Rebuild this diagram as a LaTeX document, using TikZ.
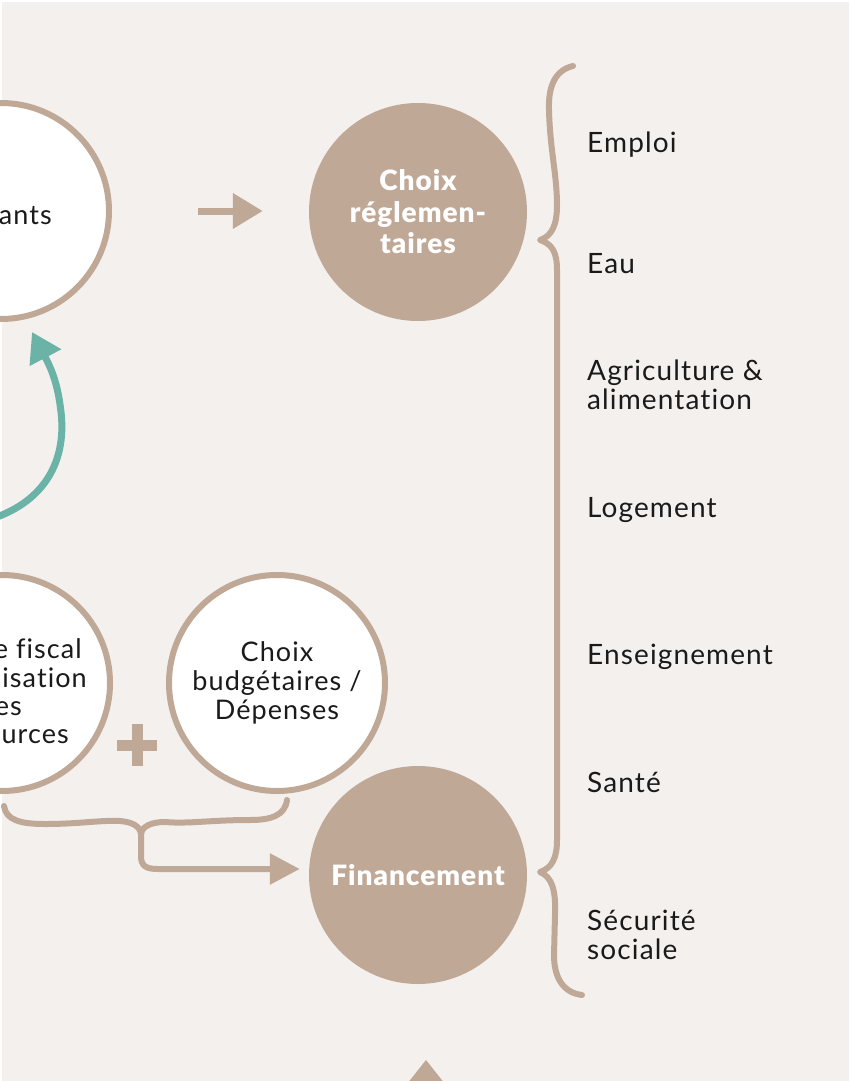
\documentclass[tikz,border=0pt]{standalone}
\usepackage{fontspec}
\setmainfont{Lato}[Ligatures=NoCommon]
\newfontfamily\lblfont{Lato}[Ligatures=NoCommon, LetterSpace=4]
\newfontfamily\boldlbl{Lato Black}[Ligatures=NoCommon, LetterSpace=3.5]
\usetikzlibrary{arrows.meta}
\definecolor{bg}{HTML}{F4F0ED}
\definecolor{beige}{HTML}{C0A896}
\definecolor{tealc}{HTML}{6BB3A7}
\definecolor{ink}{HTML}{1A1A1A}
\tikzset{
  ring/.style={circle, draw=beige, line width=6pt, fill=white, minimum size=216pt, inner sep=0pt},
  disc/.style={circle, fill=beige, minimum size=218pt, inner sep=0pt, text=white, align=center,
    font=\boldlbl\fontsize{28}{31.5}\selectfont},
  ringtext/.style={text=ink, align=center, font=\lblfont\fontsize{27}{29}\selectfont, inner sep=0pt},
  frag/.style={anchor=base east, inner sep=0pt, text=ink, font=\lblfont\fontsize{27}{29}\selectfont},
  lbl/.style={anchor=base west, inner sep=0pt, text=ink, align=left, font=\lblfont\fontsize{28}{28.5}\selectfont},
  flow/.style={draw=beige, line width=6pt, line cap=round, line join=round},
  bigarrow/.style={draw=beige, line width=7pt, -{Triangle[length=30pt,width=34pt]}},
}
\begin{document}
\begin{tikzpicture}[x=1pt,y=-1pt]
\useasboundingbox (0,0) rectangle (849,1081);
\clip (0,0) rectangle (849,1081);
\fill[white] (0,0) rectangle (849,1081);
\fill[bg] (2,2) rectangle (849,1081);

% circles
\node[ring] (lc1) at (1,211) {};
\node[ring] (lc2) at (2,683) {};
\node[ring, ringtext] (bc) at (277,683) {Choix\\budgétaires /\\Dépenses};
\node[disc] (rc) at (418,212) {Choix\\réglemen-\\taires};
\node[disc] (fc) at (418,875) {Financement};

% visible parts of the cropped texts
\node[frag] (t1) at (52,224) {ants};
\node[frag] (t2) at (82,658) {e fiscal};
\node[frag] (t3) at (87,687) {lisation};
\node[frag] (t4) at (22,715) {es};
\node[frag] (t5) at (69,743) {urces};

% arrow to Choix réglementaires
\draw[bigarrow, shorten <=86pt, shorten >=46pt] (lc1.east) -- (lc1.east -| rc.west);

% teal curved arrow
\coordinate (tstart) at (-3,517);
\coordinate (ttip) at (32,332);
\draw[tealc, line width=7pt, -{Triangle[length=29pt,width=34pt]}]
  (tstart) .. controls (50,497) and (66,455) .. (61,412)
  .. controls (58,385) and (52,370) .. (ttip);

% plus sign
\draw[beige, line width=11pt] (117,745) -- (157,745) (137,724) -- (137,766);

% brace connector to Financement
\draw[flow] (4,806) .. controls (6,820) and (20,824) .. (45,824)
  .. controls (80,824) and (100,820) .. (120,821)
  .. controls (132,822) and (140,826) .. (141,834);
\draw[flow] (287,800) .. controls (285,815) and (272,820) .. (250,820)
  .. controls (210,820) and (190,824) .. (165,822)
  .. controls (152,822) and (142,826) .. (141,834);
\draw[flow, line cap=butt, -{Triangle[length=30pt,width=30pt]}, shorten >=9pt]
  (141,832) -- (141,856) .. controls (141,866) and (146,869) .. (158,869)
  -- (fc.west |- 0,869);

% big right brace
\draw[flow] (573,66) .. controls (556,70) and (548,85) .. (549,110)
  .. controls (550,150) and (557,175) .. (557,205)
  .. controls (557,225) and (552,236) .. (540,240)
  .. controls (552,244) and (557,252) .. (557,270)
  -- (557,840)
  .. controls (557,858) and (552,868) .. (540,872)
  .. controls (552,877) and (556,890) .. (555,915)
  -- (554,955)
  .. controls (554,980) and (565,993) .. (582,995);

% labels (base = baseline of the last line)
\node[lbl] (l1) at (587,152) {Emploi};
\node[lbl] (l2) at (587,273) {Eau};
\node[lbl] (l3) at (587,409) {Agriculture \&\\alimentation};
\node[lbl] (l4) at (587,517) {Logement};
\node[lbl] (l5) at (587,664) {Enseignement};
\node[lbl] (l6) at (587,792) {Santé};
\node[lbl] (l7) at (587,959) {Sécurité\\sociale};

% bottom triangle
\fill[beige] (426,1060) -- (453,1094) -- (399,1094) -- cycle;
\end{tikzpicture}
\end{document}
